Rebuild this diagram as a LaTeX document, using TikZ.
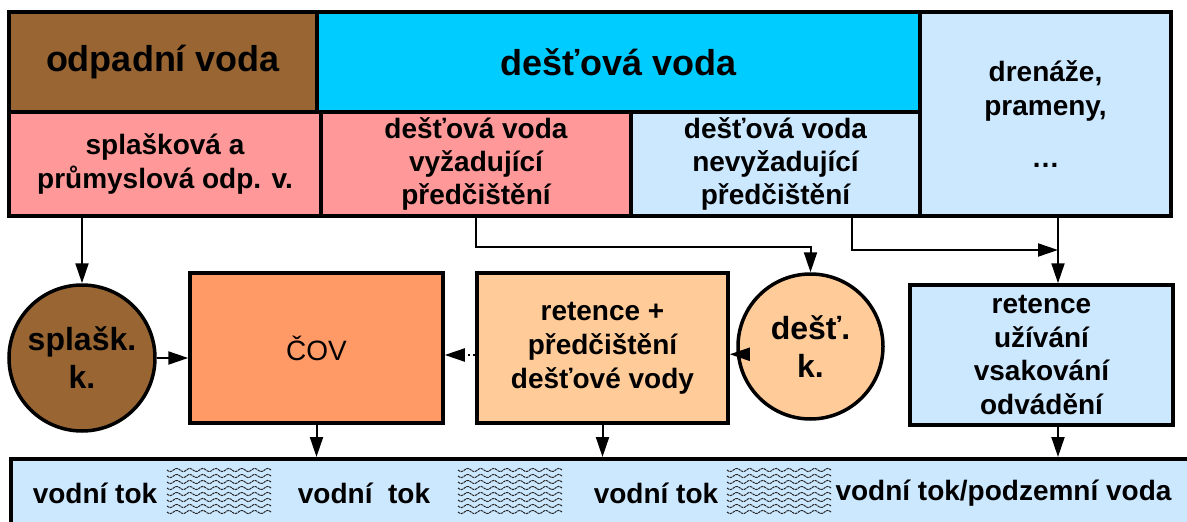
\documentclass[tikz,border=0pt]{standalone}
\usepackage{fontspec}
\setmainfont{Liberation Sans}
\usetikzlibrary{arrows.meta}
\definecolor{brownw}{HTML}{996633}
\definecolor{cyanw}{HTML}{00CCFF}
\definecolor{lblue}{HTML}{CCE8FF}
\definecolor{pinkw}{HTML}{FF9999}
\definecolor{orangew}{HTML}{FF9966}
\definecolor{lorange}{HTML}{FFCC99}
\begin{document}
\begin{tikzpicture}[x=1pt,y=-1pt,
  box/.style={draw,line width=3.5pt,inner sep=0pt,align=center,font=\fontsize{28}{34}\selectfont\bfseries},
  head/.style={box,font=\fontsize{36}{40}\selectfont\bfseries},
  circ/.style={box,circle,font=\fontsize{32}{38}\selectfont\bfseries},
  arr/.style={-{Triangle[length=20pt,width=13pt]},line width=2pt},
  wave/.style={line width=1pt,black!85,dash pattern=on 2.5pt off 0.7pt},
  lbl/.style={font=\fontsize{28}{34}\selectfont\bfseries,inner sep=0pt}]
\useasboundingbox (0,0) rectangle (1187,522);
\clip (0,0) rectangle (1187,522);
% top rows
\node[head,fill=brownw,minimum width=308,minimum height=100] (waste) at (163,62) {odpadní voda};
\node[head,fill=cyanw,minimum width=603,minimum height=100] (rain) at (618.5,62) {dešťová voda};
\node[box,fill=lblue,minimum width=251,minimum height=204] (drain) at (1045.5,114) {drenáže,\\prameny,\\[18pt]…};
\node[box,fill=pinkw,minimum width=312,minimum height=104] (sewage) at (165,164) {splašková a\\průmyslová odp. v.};
\node[box,fill=pinkw,minimum width=310,minimum height=104,font=\fontsize{28}{33}\selectfont\bfseries] (rainA) at (476,164) {dešťová voda\\vyžadující\\předčištění};
\node[box,fill=lblue,minimum width=289,minimum height=104,font=\fontsize{28}{33}\selectfont\bfseries] (rainB) at (775.5,164) {dešťová voda\\nevyžadující\\předčištění};
% middle row
\node[circ,fill=brownw,minimum size=146] (splk) at (82,358) {splašk.\\k.};
\node[box,fill=orangew,minimum width=253,minimum height=150,font=\fontsize{28}{34}\selectfont] (cov) at (316.5,348) {ČOV};
\node[box,fill=lorange,minimum width=251,minimum height=150] (ret) at (602.5,348) {retence +\\předčištění\\dešťové vody};
\node[circ,fill=lorange,minimum size=145] (desk) at (810.5,346.5) {dešť.\\k.};
\node[box,fill=lblue,minimum width=263,minimum height=140] (use) at (1041.5,355) {retence\\užívání\\vsakování\\odvádění};
% river
\node[box,fill=lblue,minimum width=1250,minimum height=120,anchor=north west] (river) at (9,457) {};
\foreach \wx in {167,458,727}
  \foreach \wy in {470,476,...,512}
    \draw[wave] plot[domain=0:104,samples=60] (\wx+\x,{\wy+1.6*sin(\x/13*360)});
\foreach \x/\v/\n in {95/vodní tok/tokA,364/vodní~~tok/tokB,656/vodní tok/tokC}
  \node[lbl] (\n) at (\x,493) {\v};
\node[lbl] (tokD) at (1003.5,493) {vodní tok/podzemní voda};
% arrows
\coordinate (join) at (1058,250);
\draw[arr] (sewage.south -| splk.north) -- (splk.north);
\draw[arr] (splk.east) -- (splk.east -| cov.west);
\draw[arr,dash pattern=on 2pt off 3pt] ([yshift=-7pt]ret.west) -- ([yshift=-7pt]cov.east);
\draw[arr] (desk.186) -- (desk.186 -| ret.east);
\draw[arr] (rainA.south) -- ++(0,29) -| (desk.north);
\draw[arr] ([xshift=76pt]rainB.south) |- (join);
\draw[arr] (drain.south -| join) -- (use.north -| join);
\draw[arr] (cov.south) -- (cov.south |- river.north);
\draw[arr] (ret.south) -- (ret.south |- river.north);
\draw[arr] (use.south -| join) -- (river.north -| join);
\end{tikzpicture}
\end{document}
